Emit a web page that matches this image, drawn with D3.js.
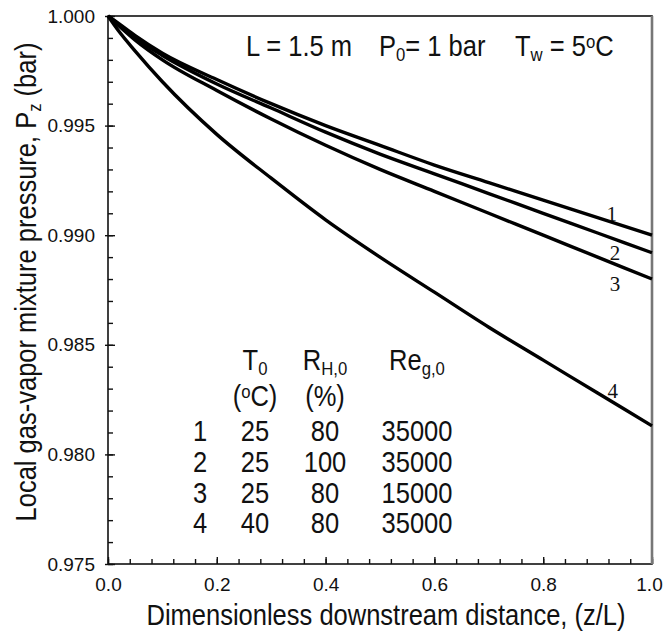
<!DOCTYPE html>
<html>
<head>
<meta charset="utf-8">
<script src="https://cdn.jsdelivr.net/npm/d3@7"></script>
<style>
  body { margin: 0; background: #fff; }
  svg text { font-family: "Liberation Sans", Arial, sans-serif; fill: #111; }
  .tick-label { font-size: 19px; }
  .curve-label { font-family: "Liberation Serif", "Times New Roman", serif; font-size: 21px; }
</style>
</head>
<body>
<svg id="chart" width="663" height="633"></svg>
<script>
// chart values
var zValues = [0, 0.02, 0.05, 0.1, 0.2, 0.3, 0.4, 0.5, 0.6, 0.7, 0.8, 0.9, 1.0];
var curve1 = [1.0000, 0.99965, 0.9991, 0.9983, 0.9971, 0.9960, 0.9950, 0.9941, 0.9932, 0.9924, 0.9916, 0.9908, 0.9900];
var curve2 = [1.0000, 0.9996, 0.9990, 0.9982, 0.9969, 0.9958, 0.9947, 0.9937, 0.9928, 0.9919, 0.9910, 0.9901, 0.9892];
var curve3 = [1.0000, 0.99955, 0.9989, 0.9980, 0.9966, 0.9953, 0.9941, 0.9930, 0.9920, 0.9910, 0.9900, 0.9890, 0.9880];
var curve4 = [1.0000, 0.9993, 0.9984, 0.9970, 0.9946, 0.9926, 0.9907, 0.9890, 0.9874, 0.9858, 0.9843, 0.9828, 0.9813];
var curves = [curve1, curve2, curve3, curve4];

// curve number annotations (data coords)
var curveNames = ["1", "2", "3", "4"];
var curveNameZ = [0.926, 0.932, 0.932, 0.928];
var curveNameP = [0.9910, 0.9892, 0.9878, 0.9829];

// table in the plot
var tableRows = ["1", "2", "3", "4"];
var tableT0 = ["25", "25", "25", "40"];
var tableRH = ["80", "100", "80", "80"];
var tableRe = ["35000", "35000", "15000", "35000"];

var xTicks = [0.0, 0.2, 0.4, 0.6, 0.8, 1.0];
var yTicks = [0.975, 0.980, 0.985, 0.990, 0.995, 1.000];

/*====================================================================
       layout
    ==================================================================*/
var svgWidth = 663, svgHeight = 633;
var margin = { top: 16, left: 108, right: 11, bottom: 69 };
var width = svgWidth - margin.left - margin.right;
var height = svgHeight - margin.top - margin.bottom;

var svg = d3.select("#chart");
var g = svg.append("g")
    .attr("transform", "translate(" + margin.left + "," + margin.top + ")");

var x = d3.scaleLinear().domain([0, 1]).range([0, width]);
var y = d3.scaleLinear().domain([0.975, 1.0]).range([height, 0]);

var bigSize = "29px";
var smallSize = "19px";
var squeeze = 0.88; // the figure's lettering is a narrow face

/*====================================================================
       narrowText()
       text with sub/superscripts, squeezed sideways
       parts = [[text, "sub"|"sup"|null], ...]
    ==================================================================*/
function narrowText(px, py, parts, anchor, angle) {
    var holder = svg.append("g")
        .attr("transform", "translate(" + px + "," + py + ") rotate(" + (angle || 0) + ") scale(" + squeeze + ",1)");
    var t = holder.append("text")
        .attr("text-anchor", anchor || "start")
        .style("font-size", bigSize);
    parts.forEach(function (p) {
        var s = t.append("tspan").text(p[0]);
        if (p[1] === "sub") {
            s.attr("baseline-shift", "-28%").attr("font-size", smallSize);
        } else if (p[1] === "sup") {
            s.attr("baseline-shift", "45%").attr("font-size", smallSize);
        }
    });
    return t;
}

/*====================================================================
       axes
    ==================================================================*/
var xMinor = d3.range(0, 1.0001, 0.04);
var yMinor = d3.range(0, 26).map(function (i) { return 0.975 + i * 0.001; });

// minor ticks, pointing inward
g.append("g")
    .attr("transform", "translate(0," + height + ")")
    .call(d3.axisBottom(x).tickValues(xMinor).tickSize(-5).tickFormat(""))
    .call(function (a) { a.select(".domain").remove(); a.selectAll("line").attr("stroke", "#111").attr("stroke-width", 1.4); });

g.append("g")
    .call(d3.axisLeft(y).tickValues(yMinor).tickSize(-5).tickFormat(""))
    .call(function (a) { a.select(".domain").remove(); a.selectAll("line").attr("stroke", "#111").attr("stroke-width", 1.4); });

// major ticks + labels
var xAxis = g.append("g")
    .attr("transform", "translate(0," + height + ")")
    .call(d3.axisBottom(x).tickValues(xTicks).tickSize(-7).tickPadding(14).tickFormat(d3.format(".1f")));
xAxis.select(".domain").remove();
xAxis.selectAll("line").attr("stroke", "#111").attr("stroke-width", 1.4);
xAxis.selectAll("text").attr("class", "tick-label").attr("fill", "#111")
    .attr("dx", function (d) { return d === 1 ? "-3" : "0"; });

var yAxis = g.append("g")
    .call(d3.axisLeft(y).tickValues(yTicks).tickSize(-7).tickPadding(13).tickFormat(d3.format(".3f")));
yAxis.select(".domain").remove();
yAxis.selectAll("line").attr("stroke", "#111").attr("stroke-width", 1.4);
yAxis.selectAll("line").clone().attr("x2", -3);
yAxis.selectAll("text").attr("class", "tick-label").attr("fill", "#111");

// frame
g.append("rect")
    .attr("width", width)
    .attr("height", height)
    .attr("fill", "none")
    .attr("stroke", "#111")
    .attr("stroke-width", 1.6);
g.append("line")
    .attr("x1", width).attr("x2", width)
    .attr("y1", 0).attr("y2", height)
    .attr("stroke", "#777")
    .attr("stroke-width", 2.6);

/*====================================================================
       curves
    ==================================================================*/
var line = d3.line()
    .x(function (d) { return x(d[0]); })
    .y(function (d) { return y(d[1]); })
    .curve(d3.curveMonotoneX);

curves.forEach(function (c) {
    g.append("path")
        .datum(zValues.map(function (z, i) { return [z, c[i]]; }))
        .attr("fill", "none")
        .attr("stroke", "#000")
        .attr("stroke-width", 3.4)
        .attr("d", line);
});

curveNames.forEach(function (n, i) {
    g.append("text")
        .attr("class", "curve-label")
        .attr("x", x(curveNameZ[i]))
        .attr("y", y(curveNameP[i]))
        .attr("dy", "0.35em")
        .attr("text-anchor", "middle")
        .text(n);
});

/*====================================================================
       annotations
    ==================================================================*/
narrowText(246, 56, [["L = 1.5 m", null]]);
narrowText(379, 56, [["P", null], ["0", "sub"], ["= 1 bar", null]]);
narrowText(515, 56, [["T", null], ["w", "sub"], [" = 5", null], ["o", "sup"], ["C", null]]);

// table
var colX = [200, 255, 325, 417];
var headY = 370, unitY = 406;
var rowY = [441, 472, 503, 533];

narrowText(colX[1], headY, [["T", null], ["0", "sub"]], "middle");
narrowText(colX[2], headY, [["R", null], ["H,0", "sub"]], "middle");
narrowText(colX[3], headY, [["Re", null], ["g,0", "sub"]], "middle");
narrowText(colX[1], unitY, [["(", null], ["o", "sup"], ["C)", null]], "middle");
narrowText(colX[2], unitY, [["(%)", null]], "middle");

[tableRows, tableT0, tableRH, tableRe].forEach(function (col, ci) {
    col.forEach(function (v, ri) {
        narrowText(colX[ci], rowY[ri], [[v, null]], "middle");
    });
});

// axis titles
narrowText(386, 625, [["Dimensionless downstream distance, (z/L)", null]], "middle");
narrowText(36, 282, [["Local gas-vapor mixture pressure, P", null], ["z", "sub"], [" (bar)", null]], "middle", -90);
</script>
</body>
</html>
